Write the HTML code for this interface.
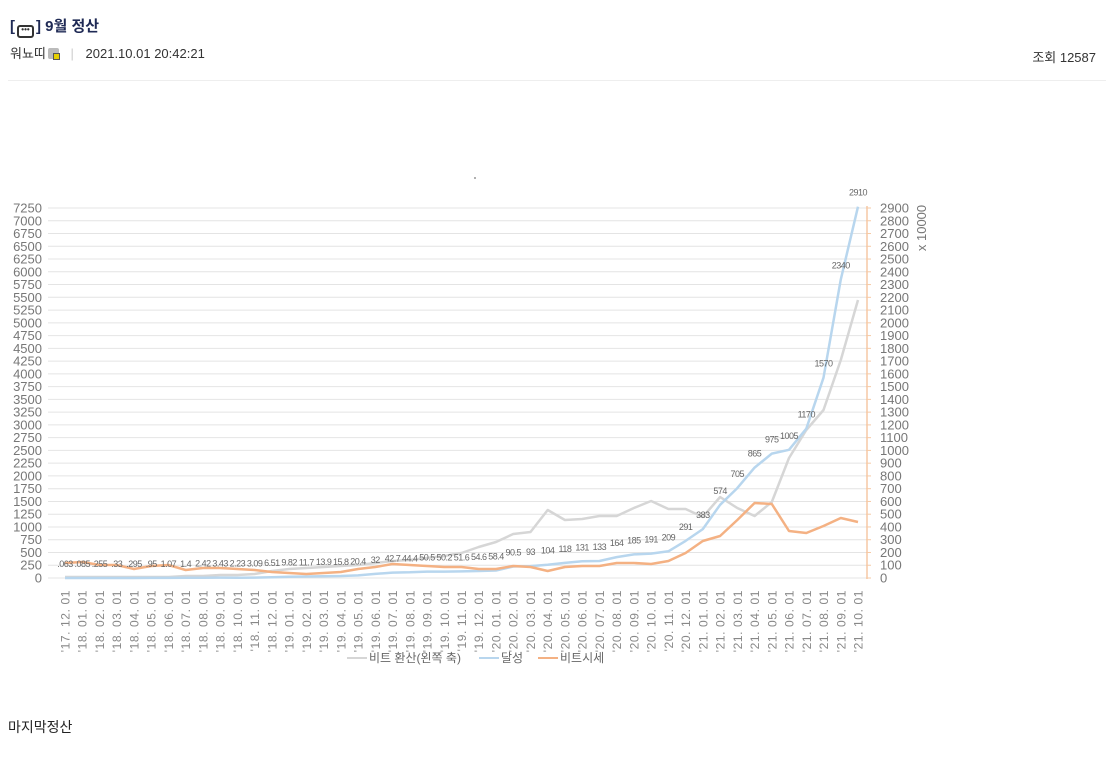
<!DOCTYPE html>
<html><head><meta charset="utf-8">
<style>
body{margin:0;width:1106px;height:763px;background:#fff;font-family:"Liberation Sans","Noto Sans CJK KR",sans-serif;position:relative;overflow:hidden}
.t{position:absolute;white-space:nowrap}
</style></head><body>
<div class="t" style="left:10px;top:15px;font-size:15px;font-weight:bold;color:#1f2a55">[<span style="display:inline-block;width:17px;height:13px;border:2px solid #333;border-radius:3px;box-sizing:border-box;vertical-align:-1px;margin:0 2px;font-size:8px;line-height:6px;text-align:center;color:#333">•••</span>] 9월 정산</div>
<div class="t" style="left:10px;top:43px;font-size:13px;color:#333">워뇨띠<span style="display:inline-block;width:11px;height:11px;background:#bbb;border-radius:2px;margin-left:2px;vertical-align:-1px;position:relative"><span style="position:absolute;right:-1px;bottom:-1px;width:5px;height:5px;background:#e6d000;border:1px solid #555"></span></span> <span style="color:#ccc;margin:0 8px">|</span> 2021.10.01 20:42:21</div>
<div class="t" style="right:10px;top:47px;font-size:13px;color:#333">조회 12587</div>
<div style="position:absolute;left:8px;right:0;top:80px;height:1px;background:#eee"></div>
<div class="t" style="left:8px;top:717px;font-size:14px;color:#222">마지막정산</div>
<svg id="c" width="1106" height="763" style="position:absolute;left:0;top:0" xmlns="http://www.w3.org/2000/svg"></svg>
<script>
var s='';var y0=578,H=370;
function yr(v){return y0-v*H/2900}
for(var i=0;i<=29;i++){var y=y0-i*H/29;s+='<line x1="48" x2="866" y1="'+y+'" y2="'+y+'" stroke="#e4e4e4" stroke-width="1"/>';
s+='<text x="42" y="'+(y+4.5)+'" text-anchor="end" font-size="13" fill="#777">'+(i*250)+'</text>';
s+='<text x="880" y="'+(y+4.5)+'" font-size="13" fill="#777">'+(i*100)+'</text>';
s+='<line x1="866" x2="871" y1="'+y+'" y2="'+y+'" stroke="#f6c9a5"/>';}
s+='<line x1="867" x2="867" y1="206" y2="579" stroke="#f6c9a5" stroke-width="1.5"/>';
s+='<text transform="translate(926,228) rotate(-90)" text-anchor="middle" font-size="13" fill="#777">x 10000</text>';
var N=47,x0=65,dx=(858-65)/46;
function X(i){return x0+i*dx}
var lab=['.063','.085','.255','.33','.295','.95','1.07','1.4','2.42','3.43','2.23','3.09','6.51','9.82','11.7','13.9','15.8','20.4','32','42.7','44.4','50.5','50.2','51.6','54.6','58.4','90.5','93','104','118','131','133','164','185','191','209','291','383','574','705','865','975','1005','1170','1570','2340','2910'];
var org=[563,562,565,565,569,566,565,570,568,568,569,570,572,573,574,573,572,569,567,564,565,566,567,567,569,569,566,567,571,567,566,566,563,563,564,561,553,541,536,520,503,504,531,533,526,518,522];
var gry=[577,577,577,577,577,577,577,576,576,575,575,574,571,569,568,567,566,565,563,561,560,558,556,553,547,542,534,532,510,520,519,516,516,508,501,509,509,517,497,508,516,502,458,430,410,360,300];
var names=[];for(var i=0;i<N;i++){var m=12+i,yy=17+Math.floor((m-1)/12),mm=((m-1)%12)+1;names.push("'"+yy+". "+(mm<10?'0':'')+mm+". 01");}
function pl(arr,c,w){var p=arr.map(function(y,i){return X(i).toFixed(1)+','+y.toFixed(1)}).join(' ');return '<polyline points="'+p+'" fill="none" stroke="'+c+'" stroke-width="'+w+'" stroke-linejoin="round"/>';}
s+=pl(gry,'#d6d6d6',2.5);
var blu=lab.map(function(v){return yr(parseFloat(v))});
s+=pl(blu,'#b8d6ee',2.5);
s+=pl(org,'#f4b183',2.5);
for(var i=0;i<N;i++){s+='<text x="'+X(i)+'" y="'+(blu[i]-11)+'" text-anchor="middle" font-size="9" fill="#666" letter-spacing="-0.5">'+lab[i]+'</text>';
s+='<text transform="translate('+(X(i)+4.5)+',590) rotate(-90)" text-anchor="end" font-size="12" fill="#888" letter-spacing="0.6">'+names[i]+'</text>';}
s+='<line x1="347" x2="367" y1="658" y2="658" stroke="#d6d6d6" stroke-width="2"/><text x="369" y="662" font-size="12" fill="#666">비트 환산(왼쪽 축)</text>';
s+='<line x1="479" x2="499" y1="658" y2="658" stroke="#b8d6ee" stroke-width="2"/><text x="501" y="662" font-size="12" fill="#666">달성</text>';
s+='<line x1="538" x2="558" y1="658" y2="658" stroke="#f4b183" stroke-width="2"/><text x="560" y="662" font-size="12" fill="#666">비트시세</text>';
s+='<circle cx="475" cy="178" r="1" fill="#999"/>';
document.getElementById('c').innerHTML=s;
</script>
</body></html>
